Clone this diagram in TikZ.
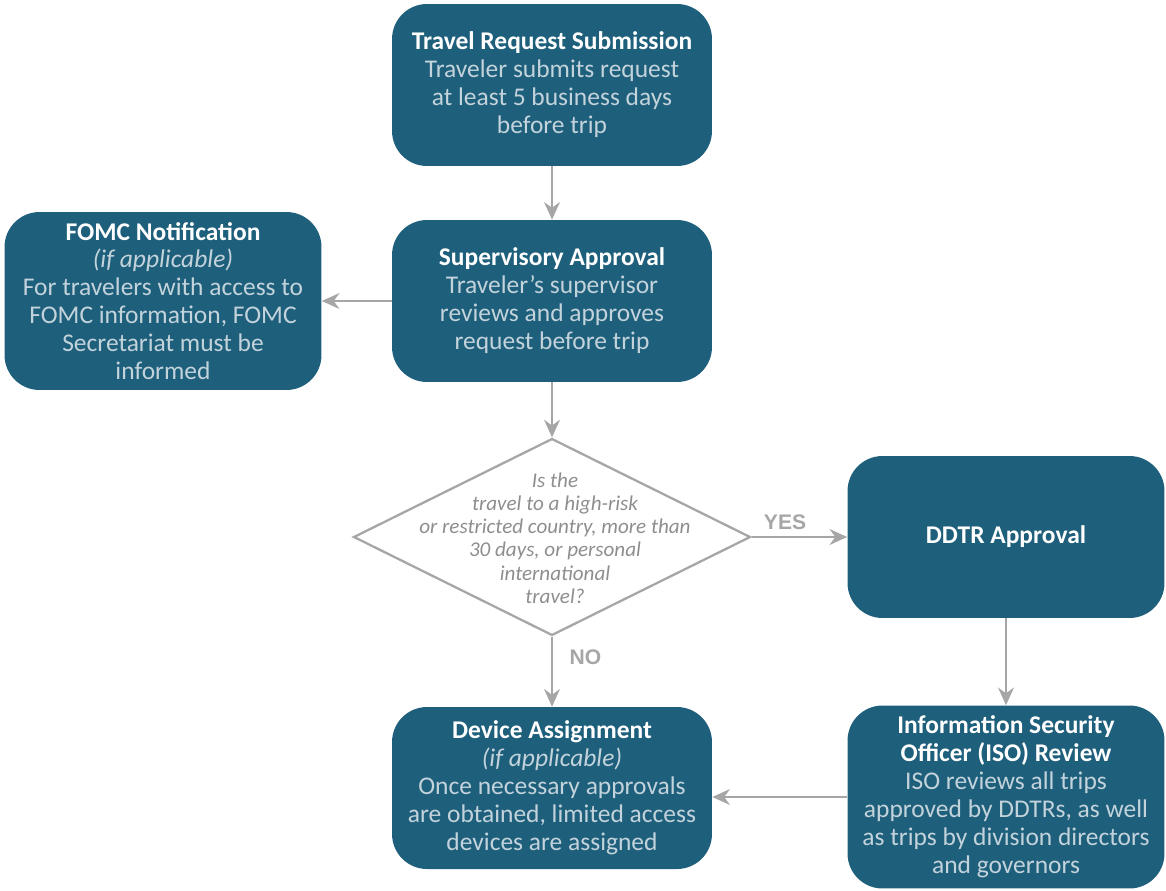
\documentclass[tikz,border=0pt]{standalone}
\usepackage{fontspec}
\setmainfont{Carlito}
\newfontfamily\yesnofont{Liberation Sans}
\usetikzlibrary{shapes.geometric,arrows.meta}
\definecolor{boxteal}{HTML}{1E5F7C}
\definecolor{bodytxt}{HTML}{C3D3DB}
\definecolor{arrowgray}{HTML}{A6A6A6}
\definecolor{asktxt}{HTML}{8E8E8E}
\newcommand{\boxtitle}[1]{\textcolor{white}{\textbf{#1}}}
\begin{document}
\begin{tikzpicture}[x=0.02cm,y=-0.02cm,
	stepbox/.style={rectangle,rounded corners=0.7cm,fill=boxteal,text=bodytxt,align=center,
		minimum width=6.4cm,minimum height=3.24cm,inner sep=0pt,font=\fontsize{14.5}{15.9}\selectfont},
	askbox/.style={diamond,draw=arrowgray,line width=1.3pt,minimum width=7.94cm,minimum height=3.94cm,inner sep=0pt},
	asktext/.style={align=center,text=asktxt,font=\fontsize{12}{13.2}\selectfont\itshape},
	flow/.style={draw=arrowgray,line width=1.4pt,-{Stealth[length=10pt,width=9pt]}},
	yesno/.style={text=arrowgray,font=\yesnofont\fontsize{12}{13}\selectfont\bfseries}]
	\useasboundingbox (0,0) rectangle (1166,890);
	
	% boxes
	\node[stepbox] (submit) at (552,85) {\boxtitle{Travel Request Submission}\\Traveler submits request\\at least 5 business days\\before trip};
	\node[stepbox] (superv) at (552,301) {\boxtitle{Supervisory Approval}\\Traveler's supervisor\\reviews and approves\\request before trip};
	\node[stepbox,minimum width=6.34cm,minimum height=3.56cm] (fomc) at (163,301) {\boxtitle{FOMC Notification}\\\textit{(if applicable)}\\For travelers with access to\\FOMC information, FOMC\\Secretariat must be\\informed};
	\node[askbox] (ask) at (552,537) {};
	\node[asktext] (asktxt) at (555,538) {Is the\\travel to a high-risk\\or restricted country, more than\\30 days, or personal\\international\\travel?};
	\node[stepbox,minimum width=6.34cm] (ddtr) at (1006,537) {\boxtitle{DDTR Approval}};
	\node[stepbox,minimum width=6.34cm,minimum height=3.66cm] (iso) at (1006,797) {\boxtitle{Information Security}\\\boxtitle{Officer (ISO) Review}\\ISO reviews all trips\\approved by DDTRs, as well\\as trips by division directors\\and governors};
	\node[stepbox] (device) at (552,788) {\boxtitle{Device Assignment}\\\textit{(if applicable)}\\Once necessary approvals\\are obtained, limited access\\devices are assigned};
	
	% arrows
	\draw[flow] (submit) -- (superv);
	\draw[flow] (superv) -- (fomc);
	\draw[flow] (superv) -- (ask.north);
	\draw[flow] (ask.east) -- node[yesno,above,pos=0.35] (yes) {YES} (ddtr.west);
	\draw[flow] (ask.south) -- node[yesno,right,pos=0.3,xshift=6pt] (no) {NO} (device.north);
	\draw[flow] (ddtr) -- (iso);
	\draw[flow] (iso.west) -- (iso.west -| device.east);
\end{tikzpicture}
\end{document}
